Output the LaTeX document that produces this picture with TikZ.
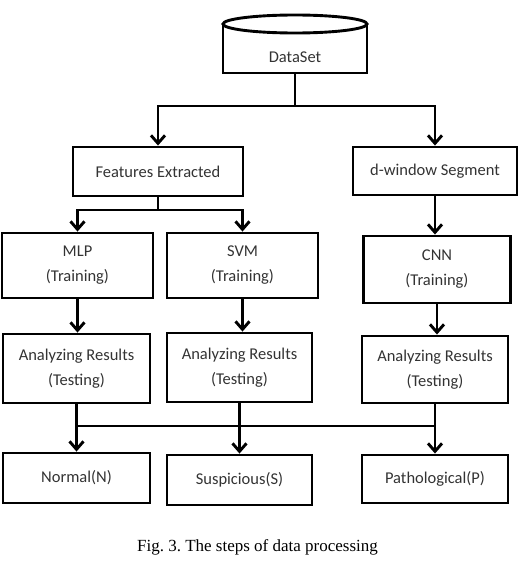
\documentclass[tikz,border=0pt]{standalone}
\usepackage{fontspec}
\setmainfont{Carlito}
\newfontfamily\capfont{Liberation Serif}
\usetikzlibrary{arrows.meta}
\definecolor{txt}{HTML}{333333}
\frenchspacing
\begin{document}
\begin{tikzpicture}[x=1pt,y=-1pt,
  box/.style={draw, line width=2.9pt, text=txt, align=center, inner sep=0pt,
    font=\fontsize{16.5}{25}\selectfont},
  conn/.style={line width=2.9pt},
  thinconn/.style={line width=2.2pt},
  arr/.style={line width=2.9pt, -{Straight Barb[length=8pt,width=14pt]}},
]
\useasboundingbox (0,0) rectangle (531,562);
% DataSet cylinder
\node[box, minimum width=144pt, minimum height=49pt] (ds) at (295,48.5) {};
\draw[line width=2.9pt, fill=white] (295,24) ellipse [x radius=72, y radius=9];
\node[text=txt, font=\fontsize{16.5}{25}\selectfont] (dst) at (295,57) {DataSet};
% second row
\node[box, minimum width=170pt, minimum height=49pt] (feat) at (158,171.5) {Features Extracted};
\node[box, minimum width=164pt, minimum height=48pt] (dwin) at (435,171) {d-window Segment};
% training
\node[box, minimum width=151pt, minimum height=65pt] (mlp) at (77.5,265.5) {MLP\\(Training)};
\node[box, minimum width=151pt, minimum height=65pt] (svm) at (242.5,265.5) {SVM\\(Training)};
\node[box, minimum width=147pt, minimum height=67pt] (cnn) at (437,269.5) {CNN\\(Training)};
% analyzing
\node[box, minimum width=147pt, minimum height=69pt] (an1) at (76.5,368.5) {Analyzing Results\\(Testing)};
\node[box, minimum width=145pt, minimum height=69pt] (an2) at (239.5,367.5) {Analyzing Results\\(Testing)};
\node[box, minimum width=146pt, minimum height=67pt] (an3) at (435,369.5) {Analyzing Results\\(Testing)};
% outputs
\node[box, minimum width=147pt, minimum height=50pt] (o1) at (76.5,478) {Normal(N)};
\node[box, minimum width=145pt, minimum height=50pt] (o2) at (239.5,480) {Suspicious(S)};
\node[box, minimum width=146pt, minimum height=48pt] (o3) at (435,479) {Pathological(P)};
% caption
\node[font=\capfont\fontsize{17}{20}\selectfont, text=black] (cap) at (257.5,547) {Fig. 3. The steps of data processing};
% top bus
\coordinate (t0) at (ds.south |- 0,106);
\coordinate (t1) at (feat.north |- 0,106);
\coordinate (t2) at (dwin.north |- 0,106);
\draw[conn] (ds.south) -- (t0);
\draw[arr] (t0) -- (t1) -- (feat.north);
\draw[arr] (t0) -- (t2) -- (dwin.north);
% features bus
\coordinate (f0) at (feat.south |- 0,210);
\coordinate (f1) at (mlp.north |- 0,210);
\coordinate (f2) at (svm.north |- 0,210);
\draw[conn] (feat.south) -- (f0);
\draw[arr] (f0) -- (f1) -- (mlp.north);
\draw[arr] (f0) -- (f2) -- (svm.north);
\draw[arr] (dwin.south) -- (dwin.south |- cnn.north);
% training -> analyzing
\draw[arr] (mlp.south) -- (mlp.south |- an1.north);
\draw[arr] (svm.south) -- (svm.south |- an2.north);
\draw[arr] (cnn.south) -- (cnn.south |- an3.north);
% bottom bus
\coordinate (b1) at (an1.south |- 0,426);
\coordinate (b2) at (an2.south |- 0,426);
\coordinate (b3) at (an3.south |- 0,426);
\draw[conn] (an1.south) -- (b1);
\draw[conn] (an3.south) -- (b3);
\draw[thinconn] (b1) -- (b3);
\draw[arr] (an2.south) -- (o2.north);
\draw[arr] (b1) -- (o1.north);
\draw[arr] (b3) -- (o3.north);
\end{tikzpicture}
\end{document}
